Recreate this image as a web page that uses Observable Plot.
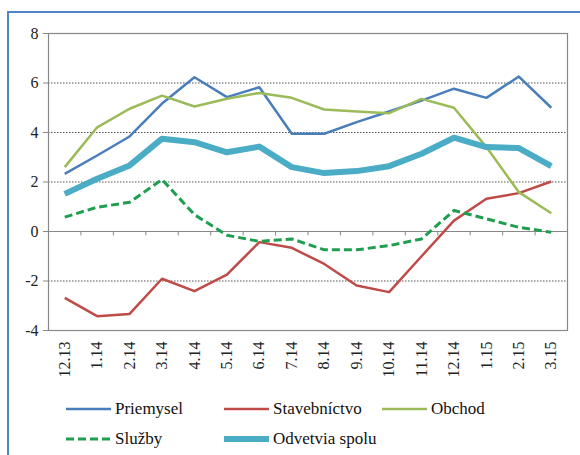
<!DOCTYPE html>
<html><head><meta charset="utf-8">
<script src="https://cdn.jsdelivr.net/npm/d3@7"></script>
<script src="https://cdn.jsdelivr.net/npm/@observablehq/plot@0.6"></script>
<style>
body{margin:0;background:#fff;}
#wrap{position:relative;width:580px;height:455px;overflow:hidden;font-family:"Liberation Serif","DejaVu Serif",serif;background:#fff;}
#border{position:absolute;left:7px;top:11px;width:640px;height:520px;border:2px solid #4f86c6;}
#chart{position:absolute;left:0;top:0;}
.item{position:absolute;display:flex;align-items:center;font-size:17px;color:#111;height:20px;line-height:20px;font-family:"Liberation Serif","DejaVu Serif",serif;}
.item svg{margin-right:4px;}
</style></head><body>
<div id="wrap"><div id="border"></div><div id="chart"></div><div id="legend"></div></div>
<script>
const categories = ["12.13","1.14","2.14","3.14","4.14","5.14","6.14","7.14","8.14","9.14","10.14","11.14","12.14","1.15","2.15","3.15"];
const priemysel    = [2.33,3.07,3.84,5.17,6.23,5.43,5.83,3.95,3.95,4.42,4.85,5.29,5.77,5.40,6.26,5.00];
const stavebnictvo = [-2.68,-3.42,-3.33,-1.91,-2.41,-1.74,-0.43,-0.66,-1.31,-2.18,-2.45,-1.00,0.44,1.32,1.55,2.02];
const obchod       = [2.60,4.21,4.96,5.49,5.05,5.36,5.60,5.40,4.93,4.85,4.78,5.36,5.00,3.41,1.59,0.74];
const sluzby       = [0.58,0.98,1.18,2.10,0.68,-0.15,-0.40,-0.30,-0.74,-0.74,-0.57,-0.30,0.85,0.51,0.17,-0.03];
const spolu        = [1.52,2.13,2.67,3.75,3.61,3.20,3.43,2.60,2.36,2.44,2.64,3.14,3.79,3.41,3.37,2.64];
const yTicks = [-4,-2,0,2,4,6,8];
const gridValues = [-2,2,4,6];

const FONT = "'Liberation Serif','DejaVu Serif',serif";
const series = [
  {name:"Priemysel", values:priemysel, color:"#4a7ebb", width:2.5, dash:null},
  {name:"Stavebníctvo", values:stavebnictvo, color:"#be4b48", width:2.5, dash:null},
  {name:"Obchod", values:obchod, color:"#9bbb59", width:2.5, dash:null},
  {name:"Služby", values:sluzby, color:"#1f9e50", width:3, dash:"8,4"},
  {name:"Odvetvia spolu", values:spolu, color:"#4bacc6", width:6, dash:null}
];
const rows = series.map(s => s.values.map((v,i) => ({series:s.name, i:i+0.5, v})));

const marks = [
  Plot.ruleY(gridValues, {stroke:"#555", strokeWidth:1.2, strokeDasharray:"1.5,1.5"}),
  Plot.ruleY([0], {stroke:"#888", strokeWidth:1.2}),
  Plot.ruleX(d3.range(categories.length+1), {y1:0, y2:-0.18, stroke:"#888"}),
  Plot.frame({stroke:"#888", strokeWidth:1.2}),
  Plot.axisY(yTicks, {label:null, tickSize:5, tickPadding:5, fontSize:16, fontFamily:FONT, stroke:"#888", fill:"#222", tickFormat:d=>String(d)}),
  Plot.axisX(d3.range(categories.length).map(i=>i+0.5), {label:null, tickFormat:d=>categories[d-0.5], tickRotate:-90, tickSize:0, tickPadding:11, fontSize:16, fontFamily:FONT, fill:"#222", anchor:"bottom"})
];
series.forEach((s,k) => {
  marks.push(Plot.line(rows[k], {x:"i", y:"v", stroke:s.color, strokeWidth:s.width, strokeDasharray:s.dash, strokeLinejoin:"round", strokeLinecap:"butt"}));
});

const chart = Plot.plot({
  width:580, height:390,
  marginLeft:48, marginRight:13, marginTop:33, marginBottom:60,
  style:{background:"transparent", fontFamily:FONT, color:"#222"},
  x:{type:"linear", domain:[0,categories.length], axis:null},
  y:{domain:[-4,8], axis:null},
  marks
});
document.getElementById("chart").appendChild(chart);

const legend = document.getElementById("legend");
const pos = [[66,399],[224,399],[382,399],[66,429],[224,429]];
series.forEach((s,k) => {
  const d = document.createElement("div");
  d.className = "item";
  d.style.left = pos[k][0]+"px"; d.style.top = pos[k][1]+"px";
  d.innerHTML = `<svg width="45" height="10"><line x1="0" x2="45" y1="5" y2="5" stroke="${s.color}" stroke-width="${s.width}" ${s.dash?`stroke-dasharray="${s.dash}"`:""}/></svg><span>${s.name}</span>`;
  legend.appendChild(d);
});
</script>
</body></html>
